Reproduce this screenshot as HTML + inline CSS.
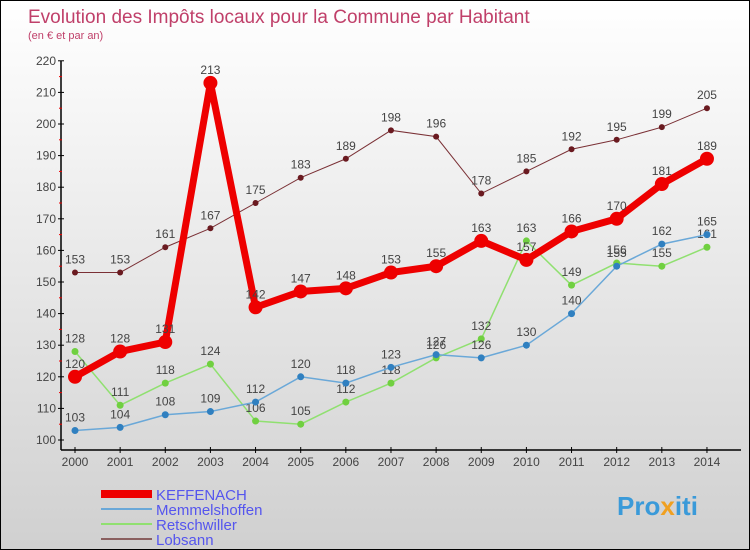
<!DOCTYPE html>
<html><head><meta charset="utf-8"><style>
body{margin:0}
#c{width:748px;height:548px;border:1px solid #000;background:linear-gradient(#fff,#d0d0d0);position:relative;font-family:"Liberation Sans",sans-serif;overflow:hidden}
</style></head><body>
<div id="c">
<svg width="748" height="548" id="s">
<text x="27" y="22" font-size="19" fill="#c0406a">Evolution des Impôts locaux pour la Commune par Habitant</text>
<text x="27" y="38" font-size="11" fill="#c0406a">(en € et par an)</text>
<g id="g"></g>
<text x="616" y="514" font-size="26" font-weight="bold" fill="#3a9ad9">Pro<tspan fill="#f0a020">x</tspan>iti</text>
</svg>
</div>
<script>
const years=[2000,2001,2002,2003,2004,2005,2006,2007,2008,2009,2010,2011,2012,2013,2014];
const keffenach=[120,128,131,213,142,147,148,153,155,163,157,166,170,181,189];
const memmelshoffen=[103,104,108,109,112,120,118,123,127,126,130,140,155,162,165];
const retschwiller=[128,111,118,124,106,105,112,118,126,132,163,149,156,155,161];
const lobsann=[153,153,161,167,175,183,189,198,196,178,185,192,195,199,205];
const yTicks=[100,110,120,130,140,150,160,170,180,190,200,210,220];
const NS='http://www.w3.org/2000/svg';
const g=document.getElementById('g');
const xs=i=>74+i*45.14;
const ys=v=>439-(v-100)*3.16;
function mk(t,a,p){const e=document.createElementNS(NS,t);for(const k in a)e.setAttribute(k,a[k]);(p||g).appendChild(e);return e;}
let ax=mk('line',{x1:60,y1:ys(220),x2:60,y2:449,stroke:'#000','stroke-width':1.5});


let bx=mk('line',{x1:60,y1:449,x2:740,y2:449,stroke:'#000','stroke-width':1.5});


yTicks.forEach(v=>{
 mk('line',{x1:57,x2:63,y1:ys(v),y2:ys(v),stroke:'#000'});
 if(v<220)mk('line',{x1:58,x2:61,y1:ys(v+5),y2:ys(v+5),stroke:'#e00'});
 const t=mk('text',{x:55,y:ys(v)+4,'font-size':12,fill:'#444','text-anchor':'end'});t.textContent=v;
 
 
});
years.forEach((y,i)=>{
 mk('line',{x1:xs(i),x2:xs(i),y1:446,y2:452,stroke:'#000'});
 const t=mk('text',{x:xs(i),y:465,'font-size':12,fill:'#444','text-anchor':'middle'});t.textContent=y;
 
 
});
const series=[
 {n:'lobsann',d:lobsann,c:'#7a3035',w:1,r:3,f:'#6a1a20'},
 {n:'retschwiller',d:retschwiller,c:'#90e070',w:1.5,r:3.5,f:'#70d040'},
 {n:'memmelshoffen',d:memmelshoffen,c:'#6aa8d8',w:1.5,r:3.5,f:'#3080c0'},
 {n:'keffenach',d:keffenach,c:'#ee0000',w:7,r:7,f:'#ee0000'}];
series.forEach(s=>{
 const p=mk('polyline',{points:s.d.map((v,i)=>xs(i)+','+ys(v)).join(' '),fill:'none',stroke:s.c,'stroke-width':s.w});
 
 
 s.d.forEach((v,i)=>{
  const c=mk('circle',{cx:xs(i),cy:ys(v),r:s.r,fill:s.f});
  
  
  const t=mk('text',{x:xs(i),y:ys(v)-9,'font-size':12,fill:'#444','text-anchor':'middle'});t.textContent=v;
  
  
 });
});
const leg=[['KEFFENACH','#ee0000',8],['Memmelshoffen','#6aa8d8',2],['Retschwiller','#90e070',2],['Lobsann','#8a6060',2]];
leg.forEach((l,i)=>{
 const y=493+i*15;
 const ln=mk('line',{x1:100,x2:151,y1:y,y2:y,stroke:l[1],'stroke-width':l[2]});
 
 
 const t=mk('text',{x:155,y:y+6,'font-size':15,fill:'#5555ee'});t.textContent=l[0];
 
 
});
</script>
</body></html>
